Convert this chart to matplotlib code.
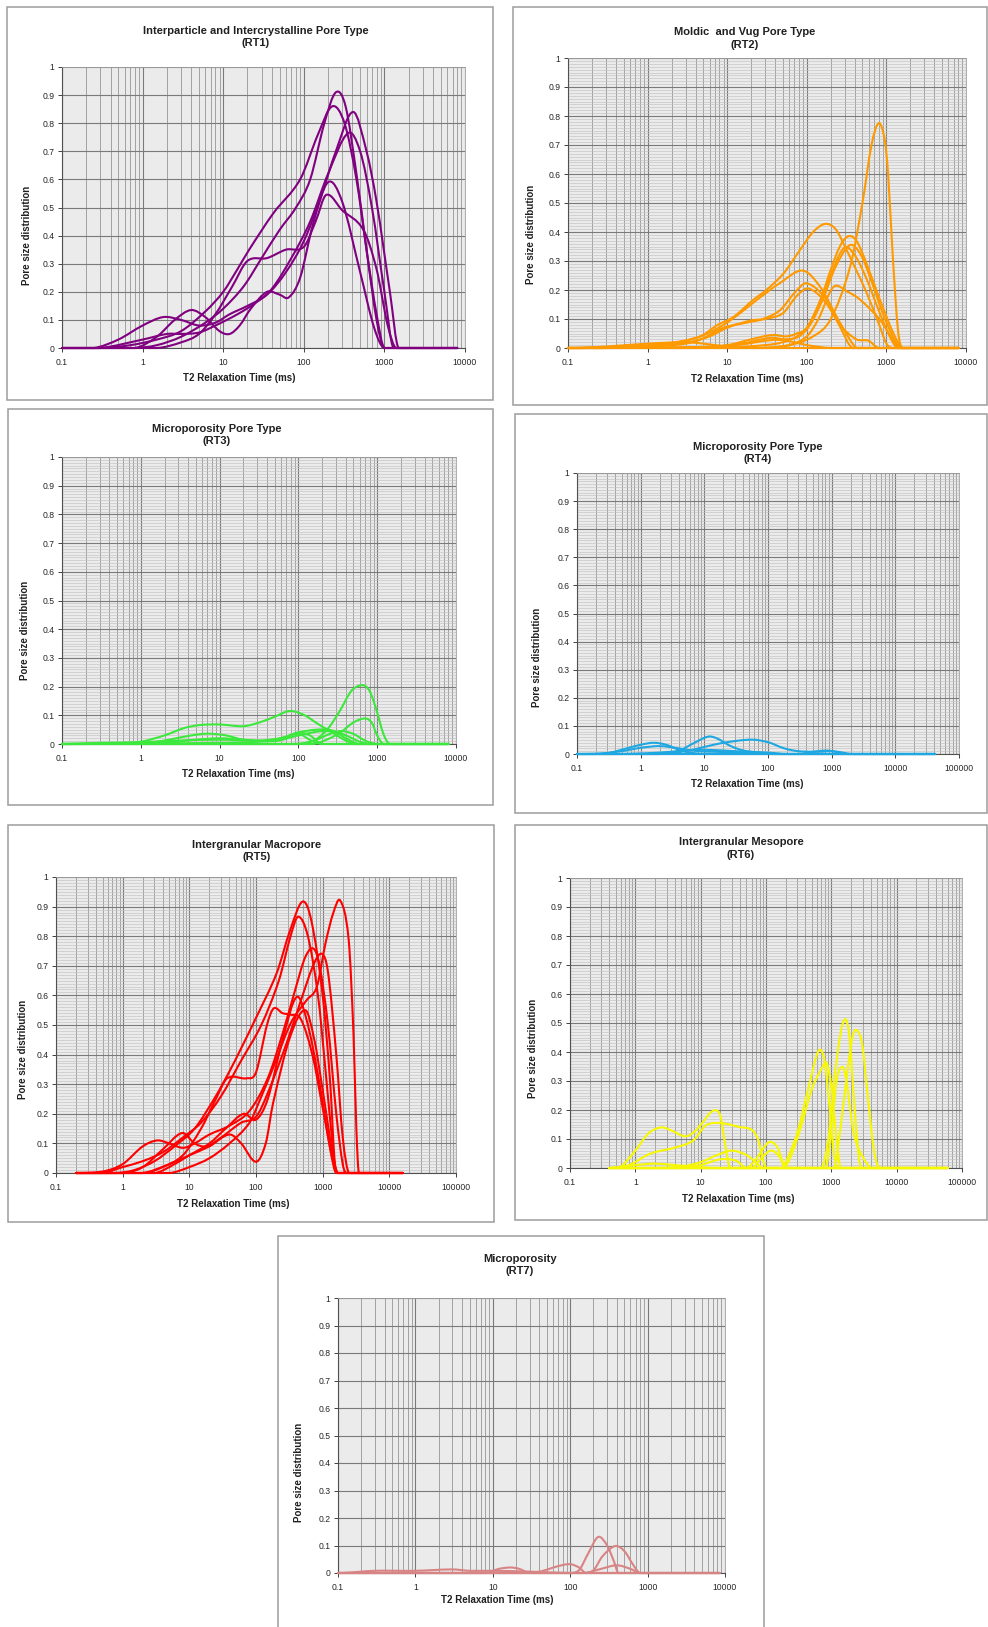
import numpy as np
import matplotlib
matplotlib.use("Agg")
import matplotlib.pyplot as plt
from matplotlib.path import Path
from matplotlib.patches import PathPatch, Rectangle
from matplotlib.ticker import FixedLocator, LogLocator, MultipleLocator, NullFormatter, NullLocator

W, H = 988, 1627
plt.rcParams['font.family'] = ['Liberation Sans', 'DejaVu Sans']

# ---- T2 distributions, one list of curves per rock type ----
RT1_T2 = [
    [0.1, 0.8, 1.5, 3, 6, 10, 18, 30, 50, 80, 120, 180, 250, 330, 450, 600, 800, 1000, 8000],
    [0.1, 0.3, 0.7, 1.5, 3, 6, 10, 15, 21, 42, 90, 150, 225, 320, 450, 600, 800, 1000, 8000],
    [0.1, 0.25, 0.5, 1, 1.8, 3, 5, 8, 12, 20, 35, 60, 100, 160, 250, 410, 600, 800, 1170, 1500, 8000],
    [0.1, 0.3, 1, 2, 3, 5, 8, 15, 25, 40, 70, 120, 200, 355, 500, 700, 1000, 1300, 8000],
    [0.1, 0.8, 1.5, 2.5, 4, 6, 9, 12, 16, 22, 35, 50, 65, 90, 130, 200, 300, 500, 750, 1000, 8000],
    [0.1, 1.5, 3, 5, 8, 13, 20, 35, 60, 100, 140, 190, 300, 550, 800, 1100, 1400, 8000],
]
RT1_PSD = [
    [0, 0, 0.01, 0.04, 0.09, 0.14, 0.22, 0.32, 0.42, 0.5, 0.6, 0.8, 0.91, 0.86, 0.62, 0.35, 0.1, 0, 0],
    [0, 0, 0.01, 0.03, 0.06, 0.13, 0.2, 0.28, 0.35, 0.48, 0.6, 0.76, 0.86, 0.8, 0.6, 0.35, 0.12, 0, 0],
    [0, 0, 0.03, 0.08, 0.11, 0.1, 0.08, 0.09, 0.12, 0.15, 0.19, 0.27, 0.38, 0.53, 0.7, 0.84, 0.7, 0.52, 0.2, 0, 0],
    [0, 0, 0.03, 0.05, 0.05, 0.055, 0.08, 0.12, 0.16, 0.21, 0.32, 0.45, 0.62, 0.765, 0.7, 0.5, 0.2, 0, 0],
    [0, 0, 0.04, 0.1, 0.135, 0.11, 0.06, 0.05, 0.08, 0.14, 0.2, 0.19, 0.18, 0.25, 0.44, 0.59, 0.52, 0.27, 0.07, 0, 0],
    [0, 0, 0.02, 0.05, 0.12, 0.22, 0.31, 0.32, 0.35, 0.36, 0.45, 0.545, 0.49, 0.42, 0.28, 0.08, 0, 0],
]

RT2_T2 = [
    [0.1, 20, 60, 120, 200, 350, 500, 650, 800, 950, 1050, 1200, 1400, 1600, 8000],
    [0.1, 0.5, 1.7, 4.6, 7.4, 12, 21, 31, 51, 83, 120, 170, 230, 316, 565, 830, 1000, 1200, 8000],
    [0.1, 0.5, 2.1, 4.6, 9, 14.5, 23.6, 46, 89, 148, 237, 350, 430, 8000],
    [0.1, 0.5, 2, 4.6, 9, 19.5, 28, 46, 70, 100, 178, 262, 380, 8000],
    [0.1, 1, 3, 6, 10, 20, 30, 50, 75, 105, 170, 260, 420, 600, 800, 8000],
    [0.1, 3, 10, 20, 37, 55, 75, 100, 150, 200, 260, 330, 420, 565, 830, 1230, 1600, 8000],
    [0.1, 5, 15, 35, 55, 80, 110, 160, 230, 350, 480, 650, 900, 1200, 1500, 8000],
    [0.1, 10, 30, 50, 80, 120, 180, 290, 400, 560, 800, 1100, 1400, 8000],
    [0.1, 30, 60, 100, 140, 215, 320, 470, 830, 1200, 1500, 8000],
    [0.1, 5, 15, 30, 45, 70, 100, 150, 200, 8000],
    [0.1, 0.3, 1, 3, 5, 10, 20, 8000],
]
RT2_PSD = [
    [0, 0, 0.01, 0.04, 0.1, 0.28, 0.5, 0.7, 0.775, 0.72, 0.6, 0.32, 0.06, 0, 0],
    [0, 0.003, 0.015, 0.04, 0.078, 0.107, 0.165, 0.2, 0.257, 0.34, 0.4, 0.428, 0.41, 0.338, 0.19, 0.073, 0.015, 0, 0],
    [0, 0.003, 0.017, 0.04, 0.08, 0.12, 0.166, 0.224, 0.267, 0.21, 0.108, 0.028, 0, 0],
    [0, 0.003, 0.012, 0.03, 0.07, 0.09, 0.1, 0.13, 0.19, 0.223, 0.166, 0.073, 0, 0],
    [0, 0.005, 0.015, 0.04, 0.07, 0.095, 0.1, 0.12, 0.18, 0.205, 0.16, 0.08, 0.03, 0.025, 0, 0],
    [0, 0.002, 0.01, 0.03, 0.045, 0.04, 0.05, 0.07, 0.17, 0.27, 0.35, 0.385, 0.37, 0.29, 0.166, 0.05, 0, 0],
    [0, 0.002, 0.015, 0.035, 0.03, 0.04, 0.08, 0.17, 0.28, 0.355, 0.32, 0.23, 0.12, 0.04, 0, 0],
    [0, 0.002, 0.01, 0.02, 0.045, 0.1, 0.22, 0.344, 0.32, 0.24, 0.13, 0.04, 0, 0],
    [0, 0, 0.01, 0.04, 0.1, 0.21, 0.195, 0.166, 0.097, 0.03, 0, 0],
    [0, 0.003, 0.012, 0.025, 0.028, 0.02, 0.01, 0.003, 0, 0],
    [0, 0.005, 0.015, 0.02, 0.015, 0.005, 0, 0],
]

RT3_T2 = [
    [0.1, 80, 150, 230, 340, 470, 650, 800, 980, 1200, 1450, 8000],
    [0.1, 150, 250, 340, 500, 700, 850, 1000, 1200, 8000],
    [0.1, 0.5, 1, 2, 3.5, 5.6, 10, 20, 32, 50, 78, 120, 170, 275, 400, 550, 8000],
    [0.1, 1, 2, 4, 7, 12, 20, 40, 70, 100, 140, 200, 8000],
    [0.1, 10, 30, 60, 100, 170, 260, 400, 600, 800, 8000],
    [0.1, 100, 170, 250, 350, 500, 700, 1000, 8000],
    [0.1, 0.3, 1, 3, 10, 30, 60, 100, 150, 200, 8000],
    [0.1, 2, 5, 10, 20, 50, 100, 200, 300, 400, 600, 8000],
]
RT3_PSD = [
    [0, 0, 0.01, 0.049, 0.118, 0.185, 0.205, 0.185, 0.118, 0.035, 0, 0],
    [0, 0, 0.02, 0.04, 0.075, 0.089, 0.075, 0.03, 0, 0],
    [0, 0.003, 0.008, 0.03, 0.055, 0.066, 0.068, 0.062, 0.075, 0.095, 0.115, 0.1, 0.073, 0.038, 0.012, 0, 0],
    [0, 0.002, 0.012, 0.028, 0.036, 0.03, 0.015, 0.01, 0.025, 0.04, 0.03, 0, 0],
    [0, 0.004, 0.008, 0.02, 0.04, 0.05, 0.048, 0.03, 0.008, 0, 0],
    [0, 0, 0.015, 0.035, 0.045, 0.035, 0.012, 0, 0],
    [0, 0.004, 0.006, 0.012, 0.015, 0.012, 0.02, 0.035, 0.01, 0, 0],
    [0, 0.005, 0.015, 0.02, 0.015, 0.01, 0.03, 0.045, 0.04, 0.02, 0, 0],
]

RT4_T2 = [
    [0.1, 2, 4, 7, 11.6, 16, 25, 40, 70, 120, 42000],
    [0.1, 0.3, 0.6, 1, 1.6, 2.5, 4, 6, 10, 42000],
    [0.1, 2, 5, 10, 20, 55, 100, 180, 300, 600, 1000, 1500, 2000, 42000],
    [0.1, 0.2, 0.5, 1, 2, 4, 8, 15, 30, 80, 150, 42000],
    [0.1, 0.5, 2, 5, 10, 30, 100, 200, 42000],
    [0.1, 300, 600, 900, 1300, 1800, 42000],
]
RT4_PSD = [
    [0, 0, 0.012, 0.04, 0.062, 0.055, 0.03, 0.013, 0.005, 0, 0],
    [0, 0.003, 0.02, 0.033, 0.04, 0.033, 0.015, 0.005, 0, 0],
    [0, 0, 0.01, 0.025, 0.04, 0.051, 0.042, 0.02, 0.01, 0.008, 0.01, 0.005, 0, 0],
    [0, 0, 0.01, 0.022, 0.028, 0.02, 0.01, 0.008, 0.005, 0.002, 0, 0],
    [0, 0, 0.005, 0.012, 0.015, 0.01, 0.005, 0, 0],
    [0, 0, 0.01, 0.012, 0.005, 0, 0],
]

RT5_T2 = [
    [0.2, 0.8, 1.5, 3, 6, 12, 25, 41, 58, 102, 204, 325, 500, 680, 1000, 1300, 1500, 1650, 16000],
    [0.2, 0.5, 1, 2, 4, 8, 15, 30, 60, 120, 220, 330, 430, 600, 850, 1100, 1400, 1600, 16000],
    [0.2, 0.5, 1, 2, 3.3, 5, 8, 12, 20, 40, 80, 150, 250, 400, 550, 730, 900, 1200, 1600, 2000, 2300, 16000],
    [0.2, 1, 2, 4, 7.8, 12, 18, 30, 60, 100, 150, 300, 500, 750, 980, 1200, 1600, 2000, 2500, 16000],
    [0.2, 5, 10, 20, 40, 80, 116, 184, 330, 580, 820, 1100, 1450, 1840, 2450, 2900, 3200, 3500, 16000],
    [0.2, 2, 4, 8, 15, 25, 37, 73, 100, 146, 184, 250, 330, 470, 700, 1000, 1400, 1700, 16000],
    [0.2, 3, 5, 10, 20, 35, 65, 100, 150, 250, 410, 600, 900, 1300, 1600, 16000],
    [0.2, 2, 5, 10, 20, 40, 60, 100, 140, 180, 325, 550, 750, 1000, 1400, 1700, 16000],
]
RT5_PSD = [
    [0, 0, 0.01, 0.04, 0.09, 0.15, 0.26, 0.348, 0.415, 0.528, 0.675, 0.82, 0.917, 0.85, 0.6, 0.3, 0.05, 0, 0],
    [0, 0, 0.02, 0.04, 0.07, 0.12, 0.17, 0.26, 0.38, 0.5, 0.65, 0.8, 0.866, 0.8, 0.6, 0.35, 0.1, 0, 0],
    [0, 0.005, 0.03, 0.09, 0.11, 0.1, 0.085, 0.1, 0.13, 0.16, 0.21, 0.32, 0.47, 0.63, 0.73, 0.758, 0.7, 0.5, 0.2, 0.03, 0, 0],
    [0, 0, 0.02, 0.08, 0.135, 0.1, 0.09, 0.12, 0.17, 0.19, 0.27, 0.45, 0.6, 0.71, 0.74, 0.68, 0.4, 0.12, 0, 0],
    [0, 0, 0.02, 0.05, 0.1, 0.17, 0.25, 0.36, 0.505, 0.585, 0.63, 0.775, 0.88, 0.92, 0.79, 0.47, 0.15, 0, 0],
    [0, 0, 0.02, 0.06, 0.15, 0.25, 0.32, 0.32, 0.34, 0.5, 0.556, 0.54, 0.535, 0.52, 0.4, 0.22, 0.05, 0, 0],
    [0, 0, 0.02, 0.06, 0.1, 0.15, 0.2, 0.18, 0.25, 0.45, 0.595, 0.5, 0.3, 0.08, 0, 0],
    [0, 0, 0.03, 0.06, 0.09, 0.13, 0.1, 0.038, 0.1, 0.235, 0.46, 0.55, 0.45, 0.28, 0.07, 0, 0],
]

RT6_T2 = [
    [0.4, 0.6, 1, 1.6, 2.5, 3.5, 5.8, 8, 11, 14, 17, 20, 23, 27, 30, 60000],
    [0.4, 0.8, 1.67, 4.3, 7.7, 12, 20, 40, 60, 75, 90, 100, 60000],
    [0.4, 2, 5, 10, 18, 30, 50, 70, 90, 60000],
    [0.4, 5, 10, 20, 35, 50, 60000],
    [0.4, 1, 2, 4, 8, 15, 60000],
    [0.4, 50, 70, 100, 120, 150, 180, 200, 60000],
    [0.4, 60, 90, 120, 160, 200, 60000],
    [0.4, 170, 200, 300, 450, 600, 690, 800, 950, 1100, 1250, 60000],
    [0.4, 180, 230, 330, 500, 700, 850, 1000, 1200, 1400, 60000],
    [0.4, 700, 900, 1100, 1400, 1650, 1900, 2200, 2600, 2900, 60000],
    [0.4, 1100, 1400, 1800, 2150, 2520, 3000, 3600, 4500, 5500, 60000],
    [0.4, 800, 1000, 1200, 1480, 1700, 2200, 3000, 4200, 60000],
]
RT6_PSD = [
    [0, 0.005, 0.06, 0.12, 0.14, 0.13, 0.109, 0.125, 0.16, 0.19, 0.199, 0.18, 0.1, 0.01, 0, 0],
    [0, 0.01, 0.049, 0.072, 0.095, 0.147, 0.155, 0.141, 0.132, 0.1, 0.03, 0, 0],
    [0, 0, 0.005, 0.02, 0.045, 0.06, 0.045, 0.02, 0, 0],
    [0, 0, 0.01, 0.03, 0.025, 0, 0],
    [0, 0.01, 0.015, 0.01, 0.005, 0, 0],
    [0, 0, 0.03, 0.08, 0.09, 0.07, 0.02, 0, 0],
    [0, 0, 0.04, 0.06, 0.04, 0, 0],
    [0, 0, 0.02, 0.12, 0.28, 0.39, 0.407, 0.36, 0.2, 0.05, 0, 0],
    [0, 0, 0.03, 0.13, 0.27, 0.34, 0.361, 0.28, 0.1, 0, 0],
    [0, 0, 0.1, 0.3, 0.47, 0.513, 0.45, 0.25, 0.05, 0, 0],
    [0, 0, 0.15, 0.35, 0.46, 0.473, 0.42, 0.25, 0.06, 0, 0],
    [0, 0, 0.12, 0.3, 0.349, 0.3, 0.12, 0.04, 0, 0],
]

RT7_T2 = [
    [0.1, 100, 130, 170, 230, 300, 370, 420, 8500],
    [0.1, 150, 200, 260, 380, 500, 650, 800, 8500],
    [0.1, 20, 40, 70, 100, 130, 160, 8500],
    [0.1, 150, 250, 400, 600, 800, 8500],
    [0.1, 8, 12, 17, 22, 30, 8500],
    [0.1, 0.3, 1, 3, 5, 10, 30, 100, 8500],
]
RT7_PSD = [
    [0, 0, 0.01, 0.07, 0.131, 0.1, 0.04, 0, 0],
    [0, 0, 0.01, 0.06, 0.098, 0.08, 0.03, 0, 0],
    [0, 0, 0.005, 0.025, 0.032, 0.02, 0, 0],
    [0, 0, 0.015, 0.028, 0.015, 0, 0],
    [0, 0, 0.015, 0.02, 0.015, 0, 0],
    [0, 0.008, 0.008, 0.013, 0.008, 0.008, 0.005, 0, 0],
]

# (title lines, T2 curves, PSD curves, colour, x max, fine y grid,
#  frame box px, plot box px, title centre, xlabel centre, ylabel centre)
PANELS = [
    (("Interparticle and Intercrystalline Pore Type", "(RT1)"), RT1_T2, RT1_PSD, "#800080", 1e4, False,
     (7, 7, 493, 400), (62, 67, 465, 348), (256, 37), (239, 378), (27, 235)),
    (("Moldic  and Vug Pore Type", "(RT2)"), RT2_T2, RT2_PSD, "#ff9900", 1e4, True,
     (513, 7, 987, 405), (568, 58, 966, 348), (745, 38), (747, 379), (531, 234)),
    (("Microporosity Pore Type", "(RT3)"), RT3_T2, RT3_PSD, "#3ce83c", 1e4, True,
     (8, 409, 493, 805), (62, 457, 456, 744), (217, 435), (238, 774), (25, 630)),
    (("Microporosity Pore Type", "(RT4)"), RT4_T2, RT4_PSD, "#1ea7e1", 1e5, True,
     (515, 414, 987, 813), (577, 473, 959, 754), (758, 453), (747, 784), (537, 657)),
    (("Intergranular Macropore", "(RT5)"), RT5_T2, RT5_PSD, "#ff0000", 1e5, True,
     (8, 825, 494, 1222), (56, 877, 456, 1173), (257, 851), (233, 1204), (23, 1049)),
    (("Intergranular Mesopore", "(RT6)"), RT6_T2, RT6_PSD, "#f7f700", 1e5, True,
     (515, 825, 987, 1220), (570, 878, 962, 1168), (741, 848), (738, 1199), (533, 1048)),
    (("Microporosity", "(RT7)"), RT7_T2, RT7_PSD, "#d98484", 1e4, False,
     (278, 1236, 764, 1632), (338, 1298, 725, 1573), (520, 1265), (497, 1600), (299, 1472)),
]


def fx(x):
    return x / W


def fy(y):
    return 1 - y / H


def smooth_path(t2, psd):
    # Hermite-style smoothed line in log(T2) space, like a spreadsheet "smooth line"
    u = np.log10(np.asarray(t2, float))
    y = np.asarray(psd, float)
    n = len(u)
    slope = np.zeros(n)
    slope[1:-1] = (y[2:] - y[:-2]) / (u[2:] - u[:-2])
    verts = [(t2[0], y[0])]
    codes = [Path.MOVETO]
    for i in range(n - 1):
        h = u[i + 1] - u[i]
        c1 = (10 ** (u[i] + h / 3), max(y[i] + slope[i] * h / 3, 0))
        c2 = (10 ** (u[i + 1] - h / 3), max(y[i + 1] - slope[i + 1] * h / 3, 0))
        verts += [c1, c2, (t2[i + 1], y[i + 1])]
        codes += [Path.CURVE4] * 3
    return Path(verts, codes)


fig = plt.figure(figsize=(W / 100, H / 100), dpi=100)
fig.patch.set_facecolor("white")

for (title, t2s, psds, color, xmax, fine, box, plot, tpos, xlpos, ylpos) in PANELS:
    bx0, by0, bx1, by1 = box
    fig.add_artist(Rectangle((fx(bx0), fy(by1)), fx(bx1 - bx0), (by1 - by0) / H,
                             transform=fig.transFigure, facecolor="white",
                             edgecolor="#9c9c9c", lw=1.1, zorder=-5))

    px0, py0, px1, py1 = plot
    ax = fig.add_axes([fx(px0), fy(py1), fx(px1 - px0), (py1 - py0) / H])
    ax.set_facecolor("#ebebeb")
    ax.set_xscale("log")
    ax.set_xlim(0.1, xmax)
    ax.set_ylim(0, 1)

    decades = [10.0 ** k for k in range(-1, int(round(np.log10(xmax))) + 1)]
    ax.xaxis.set_major_locator(FixedLocator(decades))
    ax.set_xticklabels([("%g" % d) if d < 1 else str(int(d)) for d in decades])
    ax.xaxis.set_minor_locator(LogLocator(base=10, subs=np.arange(2, 10), numticks=100))
    ax.xaxis.set_minor_formatter(NullFormatter())

    yt = np.round(np.arange(0, 1.01, 0.1), 1)
    ax.set_yticks(yt)
    ax.set_yticklabels(["0" if v == 0 else ("1" if v == 1 else "%g" % v) for v in yt])
    if fine:
        ax.yaxis.set_minor_locator(MultipleLocator(0.01))
        ax.grid(True, which="minor", axis="y", color="#c2c2c2", lw=0.45)
    else:
        ax.yaxis.set_minor_locator(NullLocator())

    ax.grid(True, which="minor", axis="x", color="#959595", lw=0.6)
    ax.grid(True, which="major", axis="both", color="#7a7a7a", lw=0.8)
    ax.set_axisbelow(True)

    ax.tick_params(which="major", direction="out", length=3, width=0.7,
                   color="#404040", labelsize=6.2, labelcolor="#262626", pad=2.5)
    ax.tick_params(which="minor", length=0)
    ax.tick_params(axis="x", pad=4)
    for side in ("left", "bottom"):
        ax.spines[side].set_color("#505050")
        ax.spines[side].set_linewidth(0.8)
    for side in ("top", "right"):
        ax.spines[side].set_color("#a0a0a0")
        ax.spines[side].set_linewidth(0.6)

    for t2, psd in zip(t2s, psds):
        ax.add_patch(PathPatch(smooth_path(t2, psd), facecolor="none", edgecolor=color,
                               lw=1.5, zorder=3, clip_on=False, capstyle="round",
                               joinstyle="round"))

    # two-line title, each line placed on its own
    for k, line in enumerate(title):
        fig.text(fx(tpos[0]), fy(tpos[1] - 6 + 12.5 * k), line, ha="center", va="center",
                 fontsize=8, fontweight="bold", color="#202020")
    fig.text(fx(xlpos[0]), fy(xlpos[1]), "T2 Relaxation Time (ms)", ha="center",
             va="center", fontsize=7, fontweight="bold", color="#202020")
    fig.text(fx(ylpos[0]), fy(ylpos[1]), "Pore size distribution", ha="center",
             va="center", rotation=90, fontsize=7, fontweight="bold", color="#202020")

fig.savefig("out.png", dpi=100)
